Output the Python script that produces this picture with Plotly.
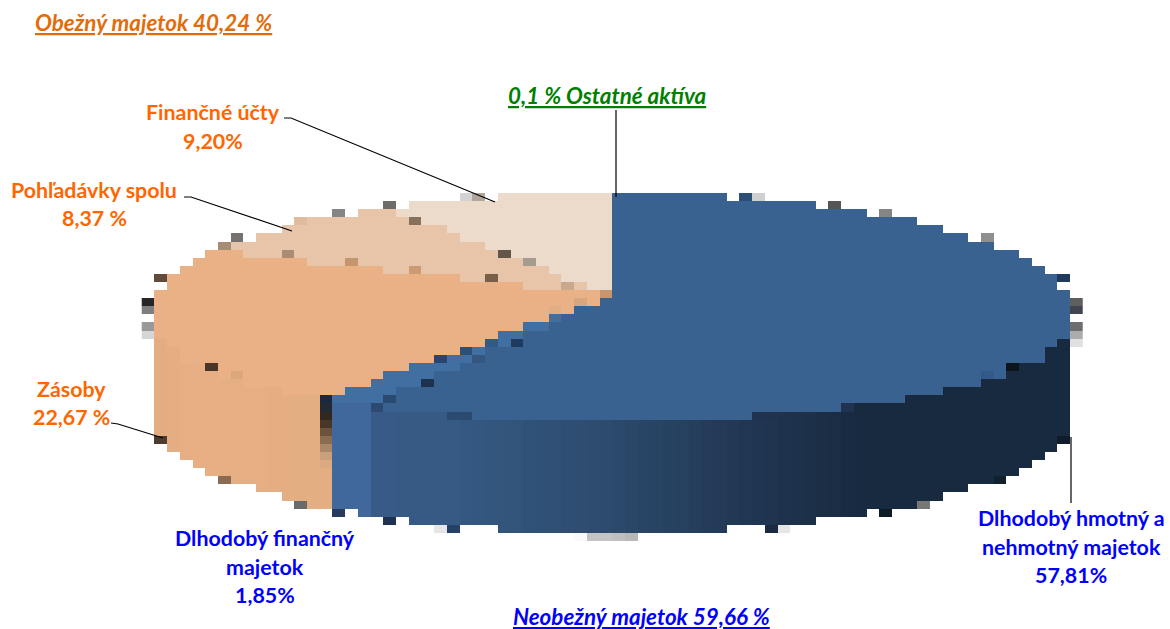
import numpy as np
import plotly.graph_objects as go

# ---- data -------------------------------------------------------------
CATEGORIES = ["Dlhodobý hmotný a nehmotný majetok", "Dlhodobý finančný majetok", "Zásoby",
              "Pohľadávky spolu", "Finančné účty", "Ostatné aktíva"]
VALUES = [57.81, 1.85, 22.67, 8.37, 9.20, 0.1]
TOP_COLORS = ["#3a6290", "#416fa2", "#e9b185", "#e8c5a8", "#ecdbcb", "#3a6290"]

LABELS = [
    ("<b><i><u>Obežný majetok 40,24 %</u></i></b>", 153, 22, "#e36c0a", 22.4),
    ("<b>Finančné účty</b>", 213, 112, "#ff6600", 21.4),
    ("<b>9,20%</b>", 213, 141, "#ff6600", 21.4),
    ("<b>Pohľadávky spolu</b>", 94, 190, "#ff6600", 21.4),
    ("<b>8,37 %</b>", 94, 218, "#ff6600", 21.4),
    ("<b>Zásoby</b>", 71, 389, "#ff6600", 21.4),
    ("<b>22,67 %</b>", 71, 417, "#ff6600", 21.4),
    ("<b><i><u>0,1 % Ostatné aktíva</u></i></b>", 607, 95, "#008000", 22.4),
    ("<b>Dlhodobý finančný</b>", 265, 538, "#0000ff", 21.4),
    ("<b>majetok</b>", 265, 567, "#0000ff", 21.4),
    ("<b>1,85%</b>", 265, 595, "#0000ff", 21.4),
    ("<b>Dlhodobý hmotný a</b>", 1071, 518, "#0000ff", 21.4),
    ("<b>nehmotný majetok</b>", 1071, 547, "#0000ff", 21.4),
    ("<b>57,81%</b>", 1071, 575, "#0000ff", 21.4),
    ("<b><i><u>Neobežný majetok 59,66 %</u></i></b>", 641, 616, "#0000ff", 22.4),
]
LEADERS = [
    [(284, 118), (291, 118), (495, 202)],
    [(184, 197), (191, 197), (292, 231)],
    [(111, 423), (118, 424), (163, 438)],
    [(1071, 437), (1071, 503)],
    [(616, 110), (616, 197)],
]

# ---- picture geometry ---------------------------------------------------
CX, RX = 612.0, 458.0
CY, RY_BACK, RY_FRONT = 310.0, 117.0, 110.0
CY2, RY2 = 418.0, 115.0
APEX_Y = 296.0
CW, CH = 12.71, 8.1
X0, Y0 = CX - 37 * CW, 193.0
NCOL, NROW = 74, 43

# rendering blemishes of the low-resolution source picture (x, y, colour)
SPECKS = [
    (147,306,"#262626"),(147,314,"#7f7f7f"),(147,323,"#999999"),(147,331,"#d6d6d6"),
    (160,281,"#614a38"),(236,239,"#767270"),(223,248,"#a68c74"),(338,215,"#858585"),
    (388,206,"#6f6c69"),(414,223,"#87705c"),(287,256,"#a98c72"),(350,264,"#c39670"),
    (414,273,"#cb9b74"),(211,364,"#4a3527"),(236,372,"#dba878"),(299,223,"#e0bb9c"),
    (465,198,"#d3d3d3"),(478,198,"#b0a69c"),(503,256,"#62554a"),(528,264,"#a59c90"),
    (490,281,"#795f4a"),(566,289,"#c8a98e"),(604,298,"#c79570"),(579,306,"#d6a77e"),
    (554,314,"#e0ae82"),(515,339,"#1f3a5f"),(490,339,"#33598a"),(465,347,"#2c4f78"),
    (439,356,"#26466d"),(478,356,"#33577f"),(426,381,"#1c324e"),(388,397,"#2a4a72"),
    (376,406,"#2c4a72"),
    (325,397,"#172a40"),(325,405,"#222a33"),(325,413,"#322822"),(325,421,"#483629"),
    (325,429,"#6b523c"),(325,437,"#8c6c50"),(325,446,"#ab8769"),(325,454,"#c9a07c"),
    (325,462,"#dcaa80"),
    (160,439,"#4e3c2e"),(223,480,"#8a6a50"),(299,506,"#6a6a6a"),(338,514,"#263c5a"),
    (388,522,"#1f3350"),(885,215,"#858585"),(986,240,"#8f8f8f"),(1063,281,"#1f3a5a"),
    (1075,306,"#5f5f5f"),(1075,314,"#41454f"),(1075,323,"#6c6e70"),(1075,331,"#acacac"),
    (1075,339,"#e0e0e0"),(1011,364,"#0c141c"),(986,372,"#35588a"),(1063,439,"#101c2c"),
    (998,481,"#10202f"),(922,505,"#777777"),(885,514,"#101a26"),
    (757,198,"#d0d0d0"),(744,198,"#2c4f78"),(833,206,"#555555"),
    (439,530,"#e6e6e6"),(452,530,"#26406a"),(770,530,"#1c2a40"),(783,530,"#e6e6e6"),
    (580,538,"#fafafa"),(592,538,"#c4c4c4"),(605,538,"#c4c4c4"),(617,538,"#bfbfbf"),(630,538,"#b8b8b8"),
    (452,413,"#2a4a70"),(465,413,"#2a4a70"),(757,414,"#1f3350"),(770,414,"#1f3350"),(845,405,"#1f3350"),
]

# ---- build the cell grid from the values --------------------------------
palette, index = [], {}
def code(color):
    if color not in index:
        index[color] = len(palette)
        palette.append(color)
    return index[color] + 0.5

def hexmix(x, xs, rgbs):
    arr = np.array(rgbs, float)
    return "#%02x%02x%02x" % tuple(int(round(np.interp(x, xs, arr[:, i]))) for i in range(3))

def warp(t_deg):
    return t_deg + np.interp(t_deg, [0, 180, 300, 340, 360], [0, 3, 4, 4, 0])

def rim(t_deg):
    t = np.radians(warp(t_deg))
    ry = RY_BACK if np.cos(t) > 0 else RY_FRONT
    return CX + RX * np.sin(t), CY - ry * np.cos(t)

def clock_angle(x, y):
    return np.degrees(np.arctan2(x - CX, APEX_Y - y)) % 360

cum = np.cumsum(VALUES) / np.sum(VALUES) * 360
limits = [clock_angle(*rim(c)) for c in cum]
limits[-1] = 360.0

BLUE_XS = [332, 369, 370, 450, 612, 750, 860, 1070]
BLUE_RGB = [(64,104,156),(64,104,156),(56,90,134),(54,90,132),(44,74,108),(32,54,82),(24,42,64),(24,42,64)]
PEACH_XS = [154, 200, 332]
PEACH_RGB = [(227,173,129),(231,175,131),(226,174,130)]

xc = X0 + (np.arange(NCOL) + 0.5) * CW
yc = Y0 + (np.arange(NROW) + 0.5) * CH
z = np.full((NROW, NCOL), np.nan)

split_x = rim(cum[1])[0]
for c, x in enumerate(xc):
    u = (x - CX) / RX
    if abs(u) >= 1:
        continue
    s = np.sqrt(1 - u * u)
    y_back, y_front = CY - RY_BACK * s, CY + RY_FRONT * s ** 0.8
    y_bot = CY2 + RY2 * s
    for r, y in enumerate(yc):
        if y_back <= y <= y_front:
            a = clock_angle(x, y)
            k = int(np.searchsorted(limits, a))
            z[r, c] = code(TOP_COLORS[min(k, len(TOP_COLORS) - 1)])
        elif y_front < y <= y_bot:
            if x >= split_x:
                z[r, c] = code(hexmix(x, BLUE_XS, BLUE_RGB))
            else:
                z[r, c] = code(hexmix(x, PEACH_XS, PEACH_RGB))

for sx, sy, col in SPECKS:
    c = int((sx - X0) // CW)
    r = int((sy - Y0) // CH)
    if 0 <= r < NROW and 0 <= c < NCOL:
        z[r, c] = code(col)

n = len(palette)
colorscale = []
for i, col in enumerate(palette):
    colorscale.append([i / n, col])
    colorscale.append([(i + 1) / n, col])

# ---- figure -------------------------------------------------------------
fig = go.Figure(go.Heatmap(x=xc, y=yc, z=z, zmin=0, zmax=n, colorscale=colorscale,
                           showscale=False, hoverinfo="skip", zsmooth=False))

for pts in LEADERS:
    fig.add_trace(go.Scatter(x=[p[0] for p in pts], y=[p[1] for p in pts], mode="lines",
                             line=dict(color="#000000", width=1.2), hoverinfo="skip", showlegend=False))

for text, x, y, col, size in LABELS:
    fig.add_annotation(x=x, y=y, xref="x", yref="y", text=text, showarrow=False,
                       xanchor="center", yanchor="middle",
                       font=dict(family="Lato", size=size, color=col))

fig.update_layout(width=1170, height=629, margin=dict(l=0, r=0, t=0, b=0),
                  paper_bgcolor="white", plot_bgcolor="white", showlegend=False)
fig.update_xaxes(range=[0, 1170], visible=False, fixedrange=True)
fig.update_yaxes(range=[629, 0], visible=False, fixedrange=True)

fig.write_html("out.html", config=dict(displayModeBar=False),
               post_script="document.body.style.margin='0';document.body.style.overflow='hidden';")
